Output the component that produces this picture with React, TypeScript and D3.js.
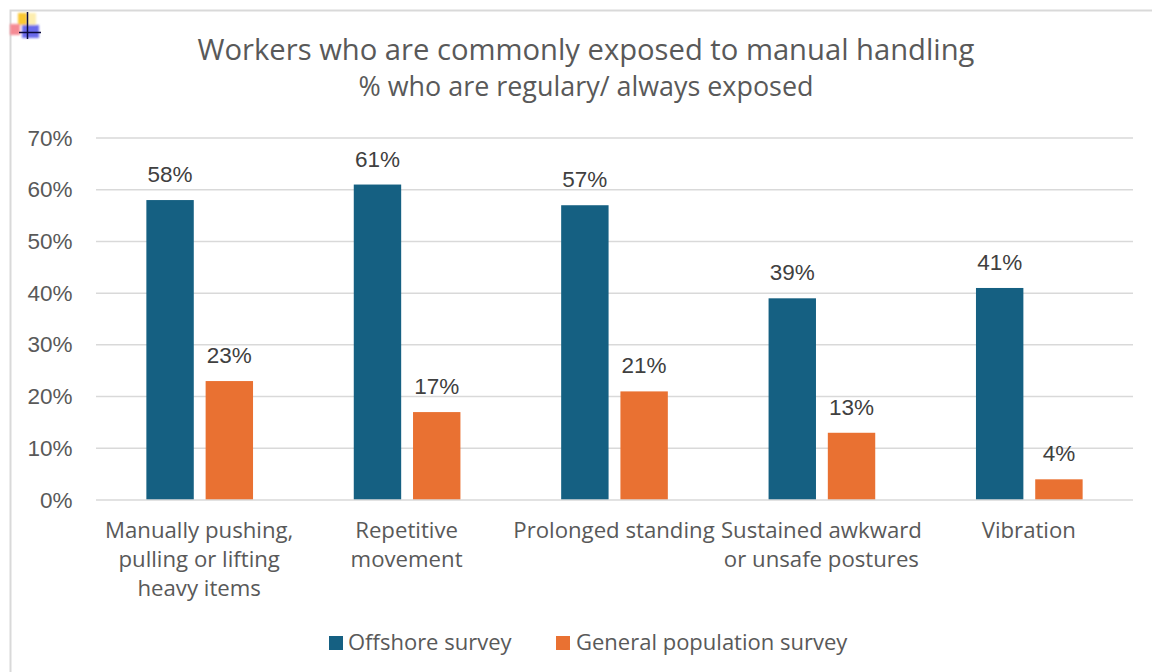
import React from "react";
import * as d3 from "d3";

const categories = [
  ["Manually pushing,", "pulling or lifting", "heavy items"],
  ["Repetitive", "movement"],
  ["Prolonged standing"],
  ["Sustained awkward", "or unsafe postures"],
  ["Vibration"],
];
const offshore = [58, 61, 57, 39, 41];
const general = [23, 17, 21, 13, 4];
const yTicks = [0, 10, 20, 30, 40, 50, 60, 70];
const seriesNames = ["Offshore survey", "General population survey"];
const seriesColors = ["#156082", "#E97132"];

const WIDTH = 1152;
const HEIGHT = 672;
const FONT = "'Open Sans', Arial, sans-serif";
const NUM_FONT = "'Liberation Sans', Arial, sans-serif";
const TEXT = "#595959";

export default function App() {
  const x0 = d3.scaleBand<number>().domain(d3.range(5)).range([96, 1133]);
  const x1 = d3
    .scaleBand<number>()
    .domain([0, 1])
    .range([0, x0.bandwidth()])
    .paddingInner(0.2)
    .paddingOuter(0.85);
  const y = d3.scaleLinear().domain([0, 70]).range([500, 138]);
  const fmt = (v: number) => `${v}%`;

  return (
    <svg
      width={WIDTH}
      height={HEIGHT}
      style={{ position: "absolute", left: 0, top: 0, background: "#fff" }}
      fontFamily={FONT}
    >
      <defs>
        <filter id="soft" x="-20%" y="-20%" width="140%" height="140%">
          <feGaussianBlur stdDeviation="0.8" />
        </filter>
      </defs>

      {/* chart frame */}
      <path d="M1152 10.5H10.5V672" fill="none" stroke="#d9d9d9" strokeWidth={2} />

      {/* small corner emblem */}
      <g filter="url(#soft)">
        <rect x={18} y={13} width={9} height={12} fill="#fbc832" />
        <rect x={27} y={13} width={9} height={12} fill="#fdeeb0" />
        <rect x={10} y={24} width={10} height={11} fill="#f58b94" />
        <rect x={22} y={25} width={17} height={13} fill="#6a6aec" />
      </g>
      <path d="M27.5 12V39M19 32.5H41" stroke="#0a0a3c" strokeWidth={1.5} fill="none" />

      <text x={586} y={60} textAnchor="middle" fontSize={29.2} fill={TEXT}>
        Workers who are commonly exposed to manual handling
      </text>
      <text x={586} y={96} textAnchor="middle" fontSize={26.9} fill={TEXT}>
        % who are regulary/ always exposed
      </text>

      {yTicks.map((t) => (
        <g key={t}>
          {t > 0 && (
            <line x1={96} x2={1133} y1={y(t)} y2={y(t)} stroke="#d9d9d9" strokeWidth={1.5} />
          )}
          <text
            x={72.5}
            y={y(t) + 7.5}
            textAnchor="end"
            fontSize={22.5}
            fontFamily={NUM_FONT}
            fill={TEXT}
          >
            {fmt(t)}
          </text>
        </g>
      ))}

      {categories.map((lines, i) => (
        <g key={i}>
          {[offshore[i], general[i]].map((v, s) => {
            const bx = (x0(i) as number) + (x1(s) as number);
            return (
              <g key={s}>
                <rect
                  x={bx}
                  y={y(v)}
                  width={x1.bandwidth()}
                  height={y(0) - y(v)}
                  fill={seriesColors[s]}
                />
                <text
                  x={bx + x1.bandwidth() / 2}
                  y={y(v) - 18}
                  textAnchor="middle"
                  fontSize={22.5}
                  fontFamily={NUM_FONT}
                  fill="#404040"
                >
                  {fmt(v)}
                </text>
              </g>
            );
          })}
          {lines.map((line, j) => (
            <text
              key={j}
              x={(x0(i) as number) + x0.bandwidth() / 2 - 0.5}
              y={538 + j * 29.2}
              textAnchor="middle"
              fontSize={22.2}
              fill={TEXT}
            >
              {line}
            </text>
          ))}
        </g>
      ))}

      <line x1={96} x2={1133} y1={y(0)} y2={y(0)} stroke="#d9d9d9" strokeWidth={1.5} />

      <rect x={329} y={636} width={14} height={14} fill={seriesColors[0]} />
      <text x={348} y={650} fontSize={22} fill={TEXT}>
        {seriesNames[0]}
      </text>
      <rect x={556} y={636} width={14} height={14} fill={seriesColors[1]} />
      <text x={576} y={650} fontSize={22} fill={TEXT}>
        {seriesNames[1]}
      </text>
    </svg>
  );
}
